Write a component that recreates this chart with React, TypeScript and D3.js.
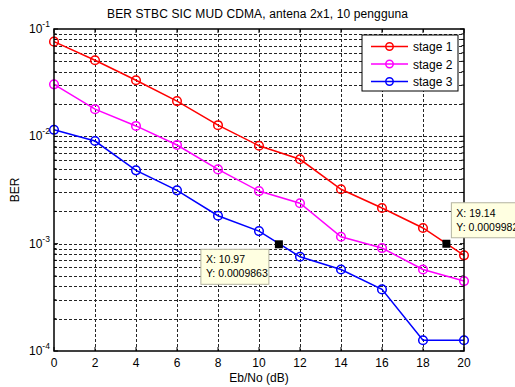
import React from "react";
import * as d3 from "d3";

const snr = [0, 2, 4, 6, 8, 10, 12, 14, 16, 18, 20];
const stage1 = [0.0762, 0.0511, 0.0333, 0.0213, 0.0127, 0.00817, 0.00611, 0.00321, 0.00215, 0.0014, 0.000778];
const stage2 = [0.0305, 0.0179, 0.0125, 0.0083, 0.00492, 0.00309, 0.00238, 0.00116, 0.00091, 0.000575, 0.000448];
const stage3 = [0.0115, 0.00904, 0.00482, 0.00314, 0.00182, 0.00131, 0.000755, 0.000575, 0.000375, 0.000126, 0.000126];
const seriesNames = ["stage 1", "stage 2", "stage 3"];
const seriesColors = ["#ff0000", "#ff00ff", "#0000ff"];
const xTicks = [0, 2, 4, 6, 8, 10, 12, 14, 16, 18, 20];
const yExponents = [-1, -2, -3, -4];
const dataTips = [
  { x: 10.97, y: 0.0009863, label: ["X: 10.97", "Y: 0.0009863"], side: "left" },
  { x: 19.14, y: 0.0009982, label: ["X: 19.14", "Y: 0.0009982"], side: "right" },
];

const W = 515;
const H = 387;
const font = "'Liberation Sans', Arial, Helvetica, sans-serif";

export default function App() {
  const left = 54, right = 464, top = 29, bottom = 351;
  const x = d3.scaleLinear().domain([0, 20]).range([left, right]);
  const y = d3.scaleLog().domain([1e-4, 1e-1]).range([bottom, top]);

  const minor: number[] = [];
  for (let e = -4; e < -1; e++) {
    for (let k = 2; k <= 9; k++) minor.push(k * Math.pow(10, e));
  }

  const line = d3
    .line<number>()
    .x((_, i) => x(snr[i]))
    .y((v) => y(v));

  const all = [stage1, stage2, stage3];

  return (
    <svg width={W} height={H} style={{ position: "absolute", left: 0, top: 0, background: "#fff" }} fontFamily={font}>
      <rect width={W} height={H} fill="#fff" />
      {/* grid */}
      <g stroke="#000" strokeWidth={1} strokeDasharray="3,2" shapeRendering="crispEdges" opacity={0.85}>
        {xTicks.slice(1, -1).map((t) => (
          <line key={"gx" + t} x1={Math.round(x(t)) + 0.5} x2={Math.round(x(t)) + 0.5} y1={top} y2={bottom} />
        ))}
        {minor.concat([1e-2, 1e-3]).map((v) => (
          <line key={"gy" + v} x1={left} x2={right} y1={Math.round(y(v)) + 0.5} y2={Math.round(y(v)) + 0.5} />
        ))}
      </g>
      {/* ticks */}
      <g stroke="#000" strokeWidth={1}>
        {xTicks.map((t) => (
          <g key={"tx" + t}>
            <line x1={x(t)} x2={x(t)} y1={bottom} y2={bottom - 4} />
            <line x1={x(t)} x2={x(t)} y1={top} y2={top + 4} />
          </g>
        ))}
        {minor.map((v) => (
          <g key={"my" + v}>
            <line x1={left} x2={left + 2.5} y1={y(v)} y2={y(v)} />
            <line x1={right} x2={right - 2.5} y1={y(v)} y2={y(v)} />
          </g>
        ))}
        {yExponents.map((e) => (
          <g key={"ty" + e}>
            <line x1={left} x2={left + 4} y1={y(Math.pow(10, e))} y2={y(Math.pow(10, e))} />
            <line x1={right} x2={right - 4} y1={y(Math.pow(10, e))} y2={y(Math.pow(10, e))} />
          </g>
        ))}
      </g>
      {/* series */}
      {all.map((s, si) => (
        <g key={"s" + si}>
          <path d={line(s) || ""} fill="none" stroke={seriesColors[si]} strokeWidth={1.5} />
          {s.map((v, i) => (
            <circle key={i} cx={x(snr[i])} cy={y(v)} r={4.3} fill="none" stroke={seriesColors[si]} strokeWidth={1.5} />
          ))}
        </g>
      ))}
      {/* axes box */}
      <rect x={left} y={top} width={right - left} height={bottom - top} fill="none" stroke="#000" strokeWidth={1.5} />
      {/* tick labels */}
      <g fontSize={12} fill="#000">
        {xTicks.map((t) => (
          <text key={"lx" + t} x={x(t)} y={bottom + 16} textAnchor="middle">
            {t}
          </text>
        ))}
        {yExponents.map((e) => (
          <text key={"ly" + e} x={29} y={y(Math.pow(10, e)) + 4}>
            10
            <tspan fontSize={8.5} dy={-6}>
              {String(e)}
            </tspan>
          </text>
        ))}
      </g>
      {/* labels */}
      <text x={107} y={18} fontSize={12} textLength={301} lengthAdjust="spacing">
        BER STBC SIC MUD CDMA, antena 2x1, 10 pengguna
      </text>
      <text x={259} y={382} textAnchor="middle" fontSize={12}>
        Eb/No (dB)
      </text>
      <text transform={`translate(19,${(top + bottom) / 2}) rotate(-90)`} textAnchor="middle" fontSize={12}>
        BER
      </text>
      {/* legend */}
      <g>
        <rect x={362} y={35} width={96} height={56} fill="#fff" stroke="#000" strokeWidth={1} />
        {seriesNames.map((n, i) => {
          const ly = 46.5 + i * 17.5;
          return (
            <g key={n}>
              <line x1={371} x2={408} y1={ly} y2={ly} stroke={seriesColors[i]} strokeWidth={1.5} />
              <circle cx={389.5} cy={ly} r={3.7} fill="none" stroke={seriesColors[i]} strokeWidth={1.5} />
              <text x={413} y={ly + 4.5} fontSize={12}>
                {n}
              </text>
            </g>
          );
        })}
      </g>
      {/* data tips */}
      {dataTips.map((d, i) => {
        const px = x(d.x);
        const py = y(d.y);
        const bx = d.side === "left" ? px - 78 : px + 5;
        const by = d.side === "left" ? py + 5 : py - 41;
        const bw = d.side === "left" ? 68 : 80;
        return (
          <g key={"dt" + i}>
            <rect x={bx} y={by} width={bw} height={35} fill="#ffffe1" stroke="#b4b4a0" strokeWidth={1} />
            <text x={bx + 5} y={by + 14} fontSize={10.5}>
              {d.label[0]}
            </text>
            <text x={bx + 5} y={by + 28} fontSize={10.5}>
              {d.label[1]}
            </text>
            <rect x={px - 4} y={py - 4} width={8} height={8} fill="#000" />
          </g>
        );
      })}
    </svg>
  );
}
